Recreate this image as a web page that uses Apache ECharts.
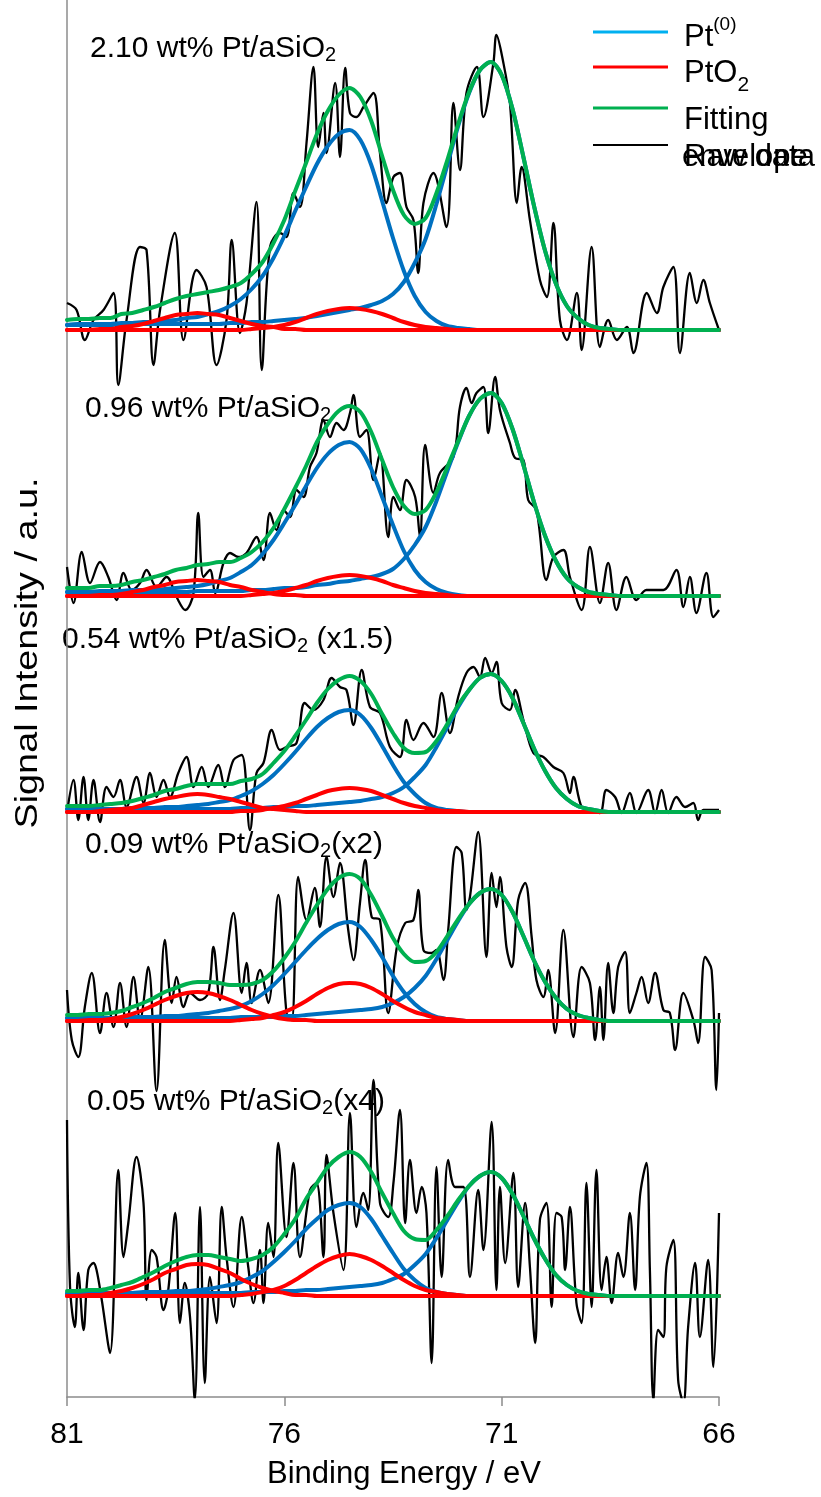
<!DOCTYPE html>
<html><head><meta charset="utf-8">
<script src="https://cdn.jsdelivr.net/npm/echarts@6/dist/echarts.min.js"></script>
<style>html,body{margin:0;padding:0;background:#fff}#c{width:821px;height:1497px}</style>
</head><body><div id="c"></div>
<script>
// Binding energy grid (eV) of the fitted components
const fitBE = [81,80.75,80.5,80.25,80,79.75,79.5,79.25,79,78.75,78.5,78.25,78,77.75,77.5,77.25,77,76.75,76.5,76.25,76,75.75,75.5,75.25,75,74.75,74.5,74.25,74,73.75,73.5,73.25,73,72.75,72.5,72.25,72,71.75,71.5,71.25,71,70.75,70.5,70.25,70,69.75,69.5,69.25,69,68.75,68.5,68.25,68,67.75,67.5,67.25,67,66.75,66.5,66.25,66];
const xTicks = [81, 76, 71, 66];
const panelLabels = ['2.10 wt% Pt/aSiO|2|', '0.96 wt% Pt/aSiO|2|', '0.54 wt% Pt/aSiO|2| (x1.5)', '0.09 wt% Pt/aSiO|2|(x2)', '0.05 wt% Pt/aSiO|2|(x4)'];
// vertical offset of each stacked spectrum (intensity units)
const panelOffset = [1067, 801, 585, 376, 101];

// Panel 1: 2.10 wt%
const p1Pt5 = [5,6,6,6,6,7,7,8,8,9,10,12,13,16,19,24,31,41,54,72,94,119,143,166,184,196,200,190,165,129,92,59,34,18,9,4,2,1,0,0,0,0,0,0,0,0,0,0,0,0,0,0,0,0,0,0,0,0,0,0,0];
const p1Pt7 = [5,5,5,5,5,6,6,6,6,6,6,6,6,6,6,7,7,8,8,9,10,11,12,14,16,18,20,22,25,29,36,48,67,91,126,165,204,237,260,268,255,221,173,123,79,46,24,12,5,2,1,0,0,0,0,0,0,0,0,0,0];
const p1Ox1 = [0,0,0,1,1,3,4,6,9,12,15,16,17,16,15,12,9,6,4,3,1,1,0,0,0,0,0,0,0,0,0,0,0,0,0,0,0,0,0,0,0,0,0,0,0,0,0,0,0,0,0,0,0,0,0,0,0,0,0,0,0];
const p1Ox2 = [0,0,0,0,0,0,0,0,0,0,0,0,0,0,0,0,0,1,2,3,5,8,12,16,19,21,22,21,19,16,12,8,5,3,2,1,0,0,0,0,0,0,0,0,0,0,0,0,0,0,0,0,0,0,0,0,0,0,0,0,0];
const p1Fit = [10,11,11,12,12,16,17,20,23,27,31,34,36,38,40,43,47,56,68,87,110,139,167,196,219,235,242,233,209,174,140,115,106,112,137,170,206,238,260,268,255,221,173,123,79,46,24,12,5,2,1,0,0,0,0,0,0,0,0,0,0];
const raw1 = [[81.00,27],[80.78,20],[80.59,-10],[80.39,10],[80.16,20],[79.93,37],[79.82,-55],[79.63,10],[79.32,83],[79.17,80],[79.01,-35],[78.86,20],[78.52,97],[78.32,-10],[78.02,60],[77.79,43],[77.56,-35],[77.33,10],[77.21,90],[77.02,-3],[76.87,27],[76.64,128],[76.52,-40],[76.33,83],[76.10,97],[75.95,93],[75.79,137],[75.64,123],[75.49,187],[75.33,263],[75.22,183],[75.10,217],[75.03,177],[74.83,247],[74.72,173],[74.60,262],[74.49,217],[74.34,213],[74.18,223],[73.95,237],[73.80,177],[73.65,127],[73.49,153],[73.34,157],[73.19,123],[73.03,110],[72.92,57],[72.80,127],[72.57,157],[72.27,103],[72.11,227],[71.96,160],[71.81,237],[71.57,263],[71.42,213],[71.19,267],[71.12,295],[70.96,267],[70.81,227],[70.65,127],[70.54,163],[70.35,110],[70.12,50],[69.96,33],[69.81,107],[69.66,10],[69.50,-10],[69.27,37],[69.16,-20],[68.93,83],[68.74,-17],[68.55,10],[68.35,-10],[68.12,3],[67.97,-23],[67.66,37],[67.43,17],[67.28,43],[67.05,63],[66.90,-23],[66.67,57],[66.51,27],[66.36,50],[66.21,27],[66.00,0]];

// Panel 2: 0.96 wt%
const p2Pt5 = [4,4,4,5,5,5,6,6,6,7,8,9,10,12,15,18,24,31,42,56,73,91,110,128,142,151,154,147,127,99,71,45,26,14,7,3,1,0,0,0,0,0,0,0,0,0,0,0,0,0,0,0,0,0,0,0,0,0,0,0,0];
const p2Pt7 = [4,4,4,4,4,4,4,4,4,4,4,4,5,5,5,5,5,6,6,7,8,8,9,11,12,14,15,17,19,22,27,37,51,69,95,125,154,180,197,203,193,167,131,93,60,35,18,9,4,2,1,0,0,0,0,0,0,0,0,0,0];
const p2Ox1 = [0,0,0,1,1,2,4,6,9,11,14,15,16,15,14,11,9,6,4,2,1,1,0,0,0,0,0,0,0,0,0,0,0,0,0,0,0,0,0,0,0,0,0,0,0,0,0,0,0,0,0,0,0,0,0,0,0,0,0,0,0];
const p2Ox2 = [0,0,0,0,0,0,0,0,0,0,0,0,0,0,0,0,0,1,2,3,5,8,11,15,18,20,21,20,18,15,11,8,5,3,2,1,0,0,0,0,0,0,0,0,0,0,0,0,0,0,0,0,0,0,0,0,0,0,0,0,0];
const p2Fit = [8,8,8,10,10,11,14,16,19,22,26,28,31,32,34,34,38,44,54,68,87,108,130,154,172,185,190,184,164,136,109,90,82,86,104,129,155,180,197,203,193,167,131,93,60,35,18,9,4,2,1,0,0,0,0,0,0,0,0,0,0];
const raw2 = [[81.0,29],[80.85,-7],[80.66,44],[80.47,13],[80.24,34],[80.05,19],[79.86,-4],[79.70,23],[79.51,6],[79.32,13],[79.17,26],[78.94,9],[78.71,19],[78.48,-1],[78.28,-14],[78.09,3],[77.98,83],[77.86,19],[77.71,26],[77.59,3],[77.40,33],[77.25,43],[77.06,39],[76.87,43],[76.64,59],[76.48,36],[76.33,83],[76.18,66],[76.02,86],[75.87,79],[75.72,106],[75.56,99],[75.41,129],[75.26,143],[75.10,176],[74.95,159],[74.80,173],[74.64,166],[74.49,183],[74.41,201],[74.26,159],[74.11,166],[73.95,116],[73.80,143],[73.61,59],[73.49,99],[73.34,86],[73.19,116],[72.99,99],[72.88,59],[72.76,151],[72.57,103],[72.42,123],[72.11,139],[71.96,189],[71.81,208],[71.69,193],[71.58,203],[71.42,209],[71.31,163],[71.15,219],[71.04,186],[70.81,153],[70.69,138],[70.50,136],[70.39,96],[70.20,86],[69.97,16],[69.81,39],[69.58,46],[69.43,19],[69.16,-14],[68.97,49],[68.74,-7],[68.55,33],[68.36,-14],[68.13,19],[67.90,-4],[67.67,6],[67.28,6],[66.98,26],[66.82,-11],[66.67,19],[66.52,-17],[66.29,23],[66.13,-21],[66.0,-14]];

// Panel 3: 0.54 wt% (x1.5)
const p3Pt5 = [3,3,3,3,3,3,4,4,4,5,5,6,7,8,10,12,16,21,28,37,48,60,73,85,94,100,102,97,84,66,47,30,18,9,4,2,1,0,0,0,0,0,0,0,0,0,0,0,0,0,0,0,0,0,0,0,0,0,0,0,0];
const p3Pt7 = [3,3,3,3,3,3,3,3,3,3,3,3,3,3,3,3,4,4,4,5,5,6,6,7,8,9,10,11,13,15,19,25,35,47,65,85,105,122,134,138,131,114,89,63,41,24,13,6,3,1,0,0,0,0,0,0,0,0,0,0,0];
const p3Ox1 = [0,0,0,1,2,3,4,7,10,13,15,17,18,17,15,13,10,7,4,3,2,1,0,0,0,0,0,0,0,0,0,0,0,0,0,0,0,0,0,0,0,0,0,0,0,0,0,0,0,0,0,0,0,0,0,0,0,0,0,0,0];
const p3Ox2 = [0,0,0,0,0,0,0,0,0,0,0,0,0,0,0,0,1,1,2,4,6,9,13,17,21,23,24,23,21,17,13,9,6,4,2,1,1,0,0,0,0,0,0,0,0,0,0,0,0,0,0,0,0,0,0,0,0,0,0,0,0];
const p3Fit = [6,6,6,7,8,9,11,14,17,21,23,26,28,28,28,28,31,33,38,49,61,76,92,109,123,132,136,131,118,98,79,64,59,60,71,88,107,122,134,138,131,114,89,63,41,24,13,6,3,1,0,0,0,0,0,0,0,0,0,0,0];
const raw3 = [[81.0,-1],[80.85,32],[80.74,-8],[80.62,35],[80.51,-8],[80.39,32],[80.24,-10],[80.09,25],[79.93,15],[79.78,32],[79.63,5],[79.40,35],[79.24,9],[79.09,39],[78.94,15],[78.78,32],[78.63,15],[78.44,39],[78.25,55],[78.09,25],[77.90,45],[77.75,25],[77.52,47],[77.37,25],[77.17,52],[76.98,57],[76.79,-18],[76.64,39],[76.48,49],[76.29,82],[76.10,62],[75.95,65],[75.72,69],[75.53,109],[75.33,102],[75.10,112],[74.91,134],[74.72,125],[74.57,122],[74.41,87],[74.22,142],[74.03,105],[73.80,99],[73.57,65],[73.34,55],[73.19,92],[73.03,72],[72.80,89],[72.57,75],[72.38,119],[72.19,79],[72.00,115],[71.81,139],[71.65,145],[71.50,135],[71.38,154],[71.23,139],[71.12,150],[71.00,109],[70.81,102],[70.69,122],[70.50,92],[70.27,59],[70.04,55],[69.81,45],[69.58,39],[69.43,19],[69.35,35],[69.16,5],[68.97,2],[68.74,-1],[68.59,22],[68.39,15],[68.24,-1],[68.05,19],[67.90,-1],[67.63,22],[67.47,-1],[67.32,22],[67.17,-1],[66.98,15],[66.78,5],[66.59,9],[66.48,-8],[66.36,2],[66.0,2]];

// Panel 4: 0.09 wt% (x2)
const p4Pt5 = [3,3,3,3,3,3,4,4,4,5,5,6,7,8,10,12,15,20,27,36,47,59,71,82,91,97,99,94,81,64,45,29,17,9,4,2,1,0,0,0,0,0,0,0,0,0,0,0,0,0,0,0,0,0,0,0,0,0,0,0,0];
const p4Pt7 = [3,3,3,3,3,3,3,3,3,3,3,3,3,3,3,3,4,4,4,4,5,5,6,7,8,9,10,11,12,14,18,24,33,45,62,81,100,117,128,132,126,109,85,60,39,23,12,6,3,1,0,0,0,0,0,0,0,0,0,0,0];
const p4Ox1 = [0,0,1,1,2,4,7,11,16,21,25,28,29,28,25,21,16,11,7,4,2,1,1,0,0,0,0,0,0,0,0,0,0,0,0,0,0,0,0,0,0,0,0,0,0,0,0,0,0,0,0,0,0,0,0,0,0,0,0,0,0];
const p4Ox2 = [0,0,0,0,0,0,0,0,0,0,0,0,0,0,0,0,1,2,3,6,9,14,20,27,33,37,38,37,33,27,20,14,9,6,3,2,1,0,0,0,0,0,0,0,0,0,0,0,0,0,0,0,0,0,0,0,0,0,0,0,0];
const p4Fit = [6,6,7,7,8,10,14,18,23,29,33,37,39,39,38,36,36,37,41,50,63,79,98,116,132,143,147,142,126,105,83,67,59,60,69,85,102,117,128,132,126,109,85,60,39,23,12,6,3,1,0,0,0,0,0,0,0,0,0,0,0];
const raw4 = [[81.0,31],[80.89,-19],[80.74,-36],[80.59,14],[80.43,48],[80.24,-12],[80.09,28],[79.93,-6],[79.78,38],[79.63,-6],[79.47,44],[79.32,1],[79.13,54],[78.94,-70],[78.75,81],[78.59,18],[78.48,44],[78.32,14],[78.17,28],[77.94,21],[77.75,28],[77.63,74],[77.48,21],[77.37,51],[77.17,108],[76.98,28],[76.87,58],[76.75,18],[76.56,51],[76.37,18],[76.14,126],[75.95,8],[75.83,1],[75.68,144],[75.49,101],[75.30,133],[75.18,94],[75.03,164],[74.87,124],[74.72,158],[74.53,91],[74.41,61],[74.26,118],[74.14,161],[73.99,104],[73.80,101],[73.61,8],[73.41,74],[73.22,98],[73.03,101],[72.92,131],[72.80,71],[72.61,68],[72.50,71],[72.34,41],[72.23,91],[72.04,174],[71.92,168],[71.81,111],[71.73,124],[71.54,189],[71.35,64],[71.23,148],[71.12,114],[71.04,144],[70.89,74],[70.77,54],[70.62,121],[70.46,138],[70.31,84],[70.20,41],[70.04,24],[69.93,51],[69.77,-12],[69.58,91],[69.35,-16],[69.16,54],[68.97,38],[68.85,-19],[68.74,34],[68.66,-19],[68.55,58],[68.43,8],[68.32,54],[68.16,69],[68.05,8],[67.90,28],[67.78,44],[67.63,18],[67.47,48],[67.28,11],[67.13,8],[67.01,-29],[66.82,28],[66.59,1],[66.48,-22],[66.32,64],[66.17,51],[66.06,-69],[66.0,8]];

// Panel 5: 0.05 wt% (x4)
const p5Pt5 = [3,3,3,3,3,3,3,4,4,4,5,5,6,7,9,11,14,19,25,34,44,55,67,77,86,91,93,89,77,60,43,27,16,8,4,2,1,0,0,0,0,0,0,0,0,0,0,0,0,0,0,0,0,0,0,0,0,0,0,0,0];
const p5Pt7 = [2,2,2,2,2,3,3,3,3,3,3,3,3,3,3,3,3,4,4,4,5,5,6,6,7,8,9,10,11,13,17,22,31,42,58,76,94,110,120,124,118,102,80,57,37,21,11,5,2,1,0,0,0,0,0,0,0,0,0,0,0];
const p5Ox1 = [0,0,1,1,3,5,8,12,17,23,27,31,32,31,27,23,17,12,8,5,3,1,1,0,0,0,0,0,0,0,0,0,0,0,0,0,0,0,0,0,0,0,0,0,0,0,0,0,0,0,0,0,0,0,0,0,0,0,0,0,0];
const p5Ox2 = [0,0,0,0,0,0,0,0,0,0,0,0,0,0,0,0,1,2,4,6,10,16,23,30,36,40,42,40,36,30,23,16,10,6,4,2,1,0,0,0,0,0,0,0,0,0,0,0,0,0,0,0,0,0,0,0,0,0,0,0,0];
const p5Fit = [5,5,6,6,8,11,14,19,24,30,35,39,41,41,39,37,35,37,41,49,62,77,97,113,129,139,144,139,124,103,83,65,57,56,66,80,96,110,120,124,118,102,80,57,37,21,11,5,2,1,0,0,0,0,0,0,0,0,0,0,0];
const raw5 = [[81.0,176],[80.93,9],[80.82,-31],[80.74,23],[80.62,-34],[80.51,26],[80.39,33],[80.32,26],[80.20,-4],[80.01,-57],[79.82,126],[79.70,39],[79.59,73],[79.40,139],[79.24,93],[79.17,-4],[79.05,46],[78.94,39],[78.78,-14],[78.67,6],[78.51,83],[78.40,-27],[78.29,13],[78.17,-21],[78.06,-104],[77.94,89],[77.83,-87],[77.71,19],[77.56,-27],[77.44,89],[77.33,39],[77.17,-11],[76.98,79],[76.83,29],[76.71,-7],[76.56,46],[76.48,-7],[76.37,73],[76.25,39],[76.14,153],[75.95,59],[75.79,133],[75.64,39],[75.41,106],[75.26,113],[75.10,39],[75.03,141],[74.87,83],[74.64,26],[74.49,183],[74.34,69],[74.18,103],[74.07,86],[73.95,216],[73.80,93],[73.61,79],[73.49,113],[73.34,186],[73.22,73],[73.11,136],[72.96,83],[72.84,109],[72.73,83],[72.61,-67],[72.50,129],[72.38,19],[72.23,136],[72.07,109],[71.88,109],[71.73,19],[71.54,106],[71.42,46],[71.23,174],[71.12,6],[71.04,109],[70.92,33],[70.73,123],[70.62,9],[70.46,93],[70.35,29],[70.23,-47],[70.12,76],[69.97,93],[69.85,-11],[69.74,83],[69.62,79],[69.54,26],[69.43,89],[69.28,-7],[69.16,-27],[69.05,113],[68.93,-11],[68.82,126],[68.70,6],[68.59,39],[68.47,-7],[68.32,43],[68.20,19],[68.05,83],[67.93,6],[67.82,99],[67.67,133],[67.59,26],[67.51,-104],[67.40,-34],[67.28,-41],[67.21,29],[67.05,56],[66.94,-84],[66.82,-107],[66.71,-31],[66.55,33],[66.44,-41],[66.25,36],[66.13,-71],[66.0,83]];

const FONT = '"Liberation Sans", Arial, Helvetica, sans-serif';
const COL_PT = '#0070C0', COL_PT_LEG = '#00B0F0', COL_OX = '#FF0000', COL_FIT = '#00B050', COL_RAW = '#000000', COL_AXIS = '#8C8C8C';

const panels = [
  {off: panelOffset[0], pt: [p1Pt5, p1Pt7], ox: [p1Ox1, p1Ox2], fit: p1Fit, raw: raw1},
  {off: panelOffset[1], pt: [p2Pt5, p2Pt7], ox: [p2Ox1, p2Ox2], fit: p2Fit, raw: raw2},
  {off: panelOffset[2], pt: [p3Pt5, p3Pt7], ox: [p3Ox1, p3Ox2], fit: p3Fit, raw: raw3},
  {off: panelOffset[3], pt: [p4Pt5, p4Pt7], ox: [p4Ox1, p4Ox2], fit: p4Fit, raw: raw4},
  {off: panelOffset[4], pt: [p5Pt5, p5Pt7], ox: [p5Ox1, p5Ox2], fit: p5Fit, raw: raw5}
];

function fitSeries(vals, off, color) {
  return {type: 'line', data: fitBE.map((x, i) => [x, off + vals[i]]), smooth: 0.3, symbol: 'none',
    lineStyle: {color: color, width: 4, join: 'round', cap: 'round'}, silent: true, z: 3};
}
const series = [];
panels.forEach(p => series.push({type: 'line', data: p.raw.map(d => [d[0], p.off + d[1]]), smooth: 0.35, symbol: 'none',
  lineStyle: {color: COL_RAW, width: 2.3, join: 'round'}, silent: true, z: 2}));
panels.forEach(p => p.pt.forEach(a => series.push(fitSeries(a, p.off, COL_PT))));
panels.forEach(p => p.ox.forEach(a => series.push(fitSeries(a, p.off, COL_OX))));
panels.forEach(p => series.push(fitSeries(p.fit, p.off, COL_FIT)));

// text helpers (sub/superscripts via rich text)
const base = (fs, lh) => ({fontSize: fs, lineHeight: lh, fontFamily: FONT, fill: '#000'});
function richLabel(str) {
  const parts = str.split('|');
  let out = '';
  parts.forEach((s, k) => { if (s) out += (k % 2 ? '{s|' : '{b|') + s + '}'; });
  return out;
}
const labelPos = [[90, 49], [85, 409], [62, 640], [85, 845], [87, 1102]];
const graphics = [];
panelLabels.forEach((t, k) => graphics.push({type: 'text', x: labelPos[k][0], y: labelPos[k][1], silent: true,
  style: {text: richLabel(t), align: 'left', verticalAlign: 'middle',
    rich: {b: base(30, 32), s: Object.assign(base(20, 12), {verticalAlign: 'bottom'})}}}));

// legend
const legRows = [
  {y: 32, col: COL_PT_LEG, w: 3, ty: 37.5, text: '{b|Pt}{p|(0)}'},
  {y: 67, col: COL_OX, w: 3, ty: 73.5, text: '{b|PtO}{s|2}'},
  {y: 108, col: COL_FIT, w: 3, ty: 120, text: '{b|Fitting}'},
  {y: 145, col: COL_RAW, w: 2, ty: 157.5, text: '{b|Raw data}'}
];
legRows.forEach(r => {
  graphics.push({type: 'line', silent: true, shape: {x1: 593, y1: r.y, x2: 668, y2: r.y}, style: {stroke: r.col, lineWidth: r.w}});
  graphics.push({type: 'text', x: 684, y: r.ty, silent: true, style: {text: r.text, align: 'left', verticalAlign: 'middle',
    rich: {b: base(31, 44), s: Object.assign(base(21, 12), {verticalAlign: 'bottom'}), p: Object.assign(base(19, 12), {verticalAlign: 'top'})}}});
});
graphics.push({type: 'text', x: 682, y: 157.5, silent: true, style: {text: 'envelope', align: 'left', verticalAlign: 'middle', fontSize: 31, fontFamily: FONT, fill: '#000'}});

// axis titles
graphics.push({type: 'text', x: 404, y: 1474, silent: true, style: {text: 'Binding Energy / eV', align: 'center', verticalAlign: 'middle', fontSize: 31, fontFamily: FONT, fill: '#000'}});
graphics.push({type: 'text', x: 28, y: 653, rotation: Math.PI / 2, scaleX: 1.22, silent: true, style: {text: 'Signal Intensity / a.u.', align: 'center', verticalAlign: 'middle', fontSize: 31, fontFamily: FONT, fill: '#000'}});

const chart = echarts.init(document.getElementById('c'), null, {width: 821, height: 1497});
chart.setOption({
  animation: false,
  backgroundColor: '#fff',
  grid: {left: 67, right: 102, top: 0, bottom: 100, containLabel: false},
  xAxis: {type: 'value', min: 66, max: 81, interval: 5, inverse: true,
    axisLine: {lineStyle: {color: COL_AXIS, width: 1.5}},
    axisTick: {length: 9, lineStyle: {color: COL_AXIS, width: 1.5}},
    axisLabel: {fontSize: 30, color: '#000', fontFamily: FONT, margin: 23,
      formatter: v => xTicks.includes(v) ? String(v) : ''},
    splitLine: {show: false}},
  yAxis: {type: 'value', min: 0, max: 1397,
    axisLine: {show: true, lineStyle: {color: COL_AXIS, width: 1.5}},
    axisTick: {show: false}, axisLabel: {show: false}, splitLine: {show: false}},
  series: series,
  graphic: graphics
});
</script>
</body></html>
